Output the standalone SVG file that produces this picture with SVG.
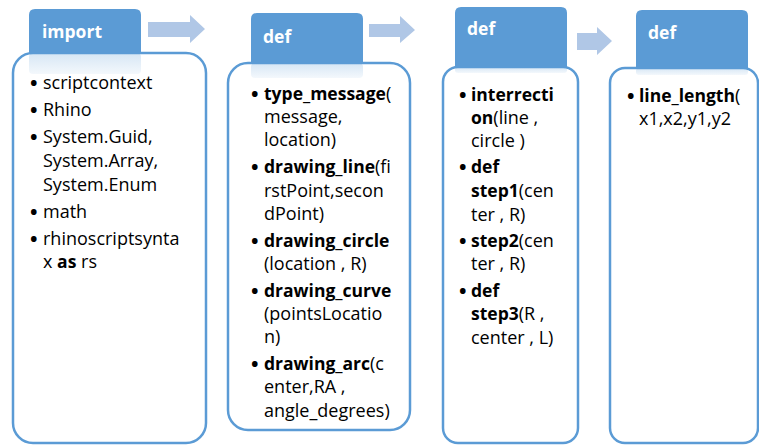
<svg xmlns="http://www.w3.org/2000/svg" width="759" height="445" viewBox="0 0 759 445">
<defs>
<linearGradient id="fade" x1="0" y1="0" x2="0" y2="1">
<stop offset="0" stop-color="#5B9BD5" stop-opacity="0.25"/>
<stop offset="1" stop-color="#5B9BD5" stop-opacity="0.07"/>
</linearGradient>
</defs>
<style>
.body{fill:#fff;stroke:#5B9BD5;stroke-width:2.5}
.tab{fill:#5B9BD5}
.fade{fill:url(#fade)}
.arrow{fill:#B0C7E6}
.h{font-family:"Open Sans","Liberation Sans",sans-serif;font-size:17.5px;font-weight:bold;fill:#fff}
.t{font-family:"Open Sans","Liberation Sans",sans-serif;font-size:18px;fill:#000}
.d{font-family:"Open Sans","Liberation Sans",sans-serif;font-size:20px;font-weight:bold;fill:#000}
.b{font-weight:bold;font-size:17.5px}
</style>
<rect width="759" height="445" fill="#fff"/>
<g id="connectors">
<polygon class="arrow" points="148,22 190,22 190,15 205,29 190,43 190,37 148,37"/>
<polygon class="arrow" points="369,24 400,24 400,16 415,30 400,43 400,37 369,37"/>
<polygon class="arrow" points="577,33 597,33 597,27 612,41 597,55 597,50 577,50"/>
</g>
<g id="node-import">
<rect class="body" x="13" y="53" width="193" height="390" rx="20"/>
<rect class="fade" x="29" y="53" width="112" height="21" rx="4"/>
<path class="tab" d="M29,53 V15 Q29,9 35,9 H135 Q141,9 141,15 V53 Z"/>
<text class="h" x="42" y="38">import</text>
<text class="d" x="30" y="90">•</text><text class="t" x="43" y="89">scriptcontext</text>
<text class="d" x="30" y="117">•</text><text class="t" x="43" y="116">Rhino</text>
<text class="d" x="30" y="144">•</text><text class="t" x="43" y="143">System.Guid,</text>
<text class="t" x="43" y="167">System.Array,</text>
<text class="t" x="43" y="191">System.Enum</text>
<text class="d" x="30" y="219">•</text><text class="t" x="43" y="218">math</text>
<text class="d" x="30" y="246">•</text><text class="t" x="43" y="245">rhinoscriptsynta</text>
<text class="t" x="43" y="268">x <tspan class="b">as</tspan> rs</text>
</g>
<g id="node-def1">
<rect class="body" x="228" y="63" width="182" height="367" rx="20"/>
<rect class="fade" x="251" y="63" width="112" height="15" rx="4"/>
<path class="tab" d="M251,63 V19 Q251,13 257,13 H357 Q363,13 363,19 V63 Z"/>
<text class="h" x="263" y="43">def</text>
<text class="d" x="251" y="101">•</text><text class="t" x="264" y="100"><tspan class="b">type_message</tspan>(</text>
<text class="t" x="264" y="123">message,</text>
<text class="t" x="264" y="146">location)</text>
<text class="d" x="251" y="174">•</text><text class="t" x="264" y="173"><tspan class="b">drawing_line</tspan>(fi</text>
<text class="t" x="264" y="197">rstPoint,secon</text>
<text class="t" x="264" y="220">dPoint)</text>
<text class="d" x="251" y="248">•</text><text class="t" x="264" y="247"><tspan class="b">drawing_circle</tspan></text>
<text class="t" x="264" y="270">(location , R)</text>
<text class="d" x="251" y="298">•</text><text class="t" x="264" y="297"><tspan class="b">drawing_curve</tspan></text>
<text class="t" x="264" y="320">(pointsLocatio</text>
<text class="t" x="264" y="343">n)</text>
<text class="d" x="251" y="371">•</text><text class="t" x="264" y="370"><tspan class="b">drawing_arc</tspan>(c</text>
<text class="t" x="264" y="393">enter,RA ,</text>
<text class="t" x="264" y="417">angle_degrees)</text>
</g>
<g id="node-def2">
<rect class="body" x="443" y="67" width="135" height="376" rx="15"/>
<rect class="fade" x="455" y="67" width="112" height="6" rx="3"/>
<path class="tab" d="M455,67 V13 Q455,7 461,7 H561 Q567,7 567,13 V67 Z"/>
<text class="h" x="467" y="35">def</text>
<text class="d" x="459" y="102">•</text><text class="t" x="471" y="101"><tspan class="b">interrecti</tspan></text>
<text class="t" x="471" y="124"><tspan class="b">on</tspan>(line ,</text>
<text class="t" x="471" y="147">circle )</text>
<text class="d" x="459" y="174">•</text><text class="t" x="471" y="173"><tspan class="b">def</tspan></text>
<text class="t" x="471" y="197"><tspan class="b">step1</tspan>(cen</text>
<text class="t" x="471" y="221">ter , R)</text>
<text class="d" x="459" y="248">•</text><text class="t" x="471" y="247"><tspan class="b">step2</tspan>(cen</text>
<text class="t" x="471" y="270">ter , R)</text>
<text class="d" x="459" y="298">•</text><text class="t" x="471" y="297"><tspan class="b">def</tspan></text>
<text class="t" x="471" y="320"><tspan class="b">step3</tspan>(R ,</text>
<text class="t" x="471" y="344">center , L)</text>
</g>
<g id="node-def3">
<rect class="body" x="610" y="68" width="148" height="375" rx="15"/>
<rect class="fade" x="636" y="68" width="112" height="7" rx="3"/>
<path class="tab" d="M636,68 V16 Q636,10 642,10 H742 Q748,10 748,16 V68 Z"/>
<text class="h" x="648" y="39">def</text>
<text class="d" x="627" y="103">•</text><text class="t" x="639" y="102"><tspan class="b">line_length</tspan>(</text>
<text class="t" x="639" y="125">x1,x2,y1,y2</text>
</g>
</svg>
